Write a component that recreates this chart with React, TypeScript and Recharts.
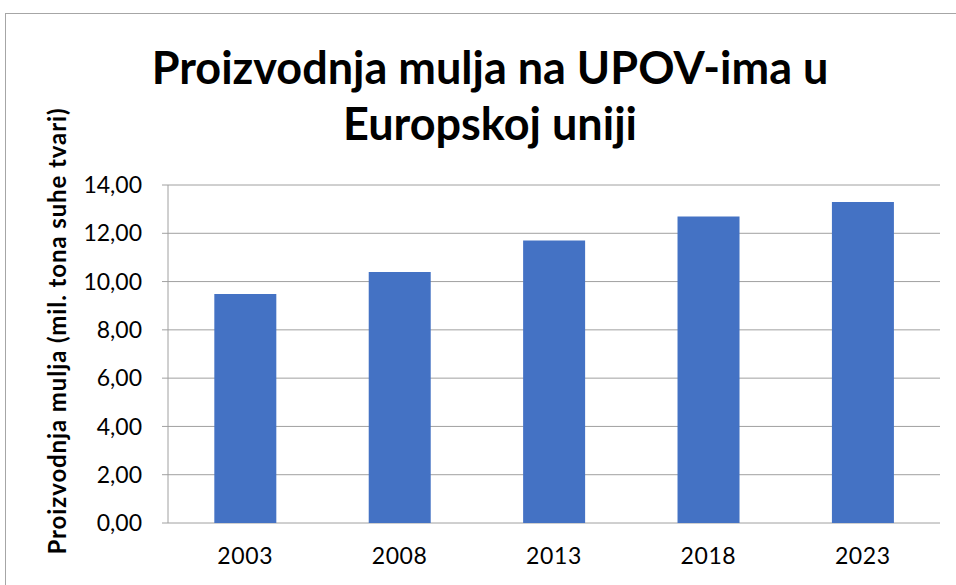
import { Bar, BarChart, CartesianGrid, XAxis, YAxis } from 'recharts';

const years = ['2003', '2008', '2013', '2018', '2023'];
const sludge = [9.49, 10.4, 11.7, 12.7, 13.3];
const yTicks = [0, 2, 4, 6, 8, 10, 12, 14];
const boundaryTicks = [0, 1, 2, 3, 4, 5];

const data = years.map((year, i) => ({ year, value: sludge[i], pos: i + 0.5 }));

const FONT = 'Lato, "Open Sans", sans-serif';

export default function App() {
  return (
    <div
      style={{
        position: 'absolute',
        left: 0,
        top: 0,
        width: 956,
        height: 585,
        overflow: 'hidden',
        background: '#fff',
        fontFamily: FONT,
      }}
    >
      <div
        style={{
          position: 'absolute',
          left: 5,
          top: 13,
          width: 980,
          height: 600,
          border: '1px solid #a6a6a6',
        }}
      />
      <div
        style={{
          position: 'absolute',
          left: 0,
          top: 39,
          width: 980,
          textAlign: 'center',
          fontWeight: 700,
          fontSize: 45,
          lineHeight: '56px',
          color: '#000',
        }}
      >
        Proizvodnja mulja na UPOV-ima u
        <br />
        Europskoj uniji
      </div>
      <div
        style={{
          position: 'absolute',
          left: 56,
          top: 331,
          transform: 'translate(-50%, -50%) rotate(-90deg)',
          whiteSpace: 'nowrap',
          fontWeight: 700,
          fontSize: 24,
          letterSpacing: 0.9,
          color: '#000',
        }}
      >
        Proizvodnja mulja (mil. tona suhe tvari)
      </div>
      <div style={{ position: 'absolute', left: 0, top: 0 }}>
        <BarChart
          width={956}
          height={585}
          data={data}
          margin={{ top: 185, right: 16, bottom: 0, left: 78 }}
          barCategoryGap="30%"
        >
          <CartesianGrid vertical={false} stroke="#a0a0a0" strokeWidth={1} />
          <XAxis
            dataKey="year"
            xAxisId="cat"
            axisLine={false}
            tickLine={false}
            tick={{ fill: '#000', fontSize: 23, fontFamily: FONT, letterSpacing: 0.6 }}
            tickMargin={19}
            height={62}
          />
          <XAxis
            xAxisId="edge"
            type="number"
            dataKey="pos"
            domain={[0, 5]}
            ticks={boundaryTicks}
            tick={false}
            axisLine={{ stroke: '#a0a0a0' }}
            tickLine={{ stroke: '#a0a0a0' }}
            tickSize={7}
            height={0}
          />
          <YAxis
            domain={[0, 14]}
            ticks={yTicks}
            width={90}
            tickFormatter={(v: number) => v.toFixed(2).replace('.', ',')}
            tick={{ fill: '#000', fontSize: 23, fontFamily: FONT }}
            axisLine={{ stroke: '#a0a0a0' }}
            tickLine={{ stroke: '#a0a0a0' }}
            tickSize={6}
            tickMargin={20}
          />
          <Bar dataKey="value" xAxisId="cat" fill="#4472c4" isAnimationActive={false} />
        </BarChart>
      </div>
    </div>
  );
}
